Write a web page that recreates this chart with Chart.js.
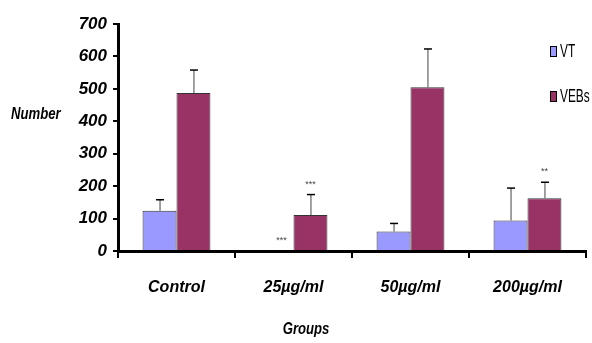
<!DOCTYPE html>
<html><head><meta charset="utf-8">
<script src="https://cdn.jsdelivr.net/npm/chart.js@4"></script>
<style>html,body{margin:0;padding:0;background:#fff}#wrap{width:592px;height:343px}</style>
</head><body><div id="wrap"><canvas id="c" width="592" height="343"></canvas></div>
<script>
const categories = ['Control', '25µg/ml', '50µg/ml', '200µg/ml'];
const vtValues = [124, 0, 60, 94];
const vtErrors = [34, 0, 25, 100];
const vebValues = [487, 111, 505, 163];
const vebErrors = [71, 63, 118, 49];
const vtSig = ['', '***', '', ''];
const vebSig = ['', '***', '', '**'];
const yTicks = [0, 100, 200, 300, 400, 500, 600, 700];
const seriesNames = ['VT', 'VEBs'];

const FONT = '"Liberation Sans", Arial, sans-serif';

function narrowText(ctx, text, x, y, sx) {
  ctx.save();
  ctx.translate(x, y);
  ctx.scale(sx, 1);
  ctx.fillText(text, 0, 0);
  ctx.restore();
}

const extras = {
  id: 'extras',
  afterDatasetsDraw(chart) {
    const ctx = chart.ctx;
    const ys = chart.scales.y;
    const errs = [vtErrors, vebErrors];
    const sigs = [vtSig, vebSig];
    const sigShift = [5, 0];
    chart.data.datasets.forEach((ds, di) => {
      const meta = chart.getDatasetMeta(di);
      meta.data.forEach((bar, i) => {
        const v = ds.data[i];
        const e = errs[di][i];
        const yTop = ys.getPixelForValue(v);
        let yMark = yTop;
        if (e > 0) {
          const yE = ys.getPixelForValue(v + e);
          ctx.save();
          ctx.strokeStyle = '#444';
          ctx.lineWidth = 1;
          ctx.beginPath();
          ctx.moveTo(bar.x + 0.5, yTop);
          ctx.lineTo(bar.x + 0.5, yE);
          ctx.stroke();
          ctx.strokeStyle = '#000';
          ctx.lineWidth = 1.5;
          ctx.beginPath();
          ctx.moveTo(bar.x - 3.5, yE);
          ctx.lineTo(bar.x + 4.5, yE);
          ctx.stroke();
          ctx.restore();
          yMark = yE;
        }
        const s = sigs[di][i];
        if (s) {
          ctx.save();
          ctx.fillStyle = '#444';
          ctx.font = '9px ' + FONT;
          ctx.textAlign = 'center';
          ctx.textBaseline = 'bottom';
          ctx.fillText(s, bar.x + sigShift[di], yMark - 6);
          ctx.restore();
        }
      });
    });
    // axis titles
    ctx.save();
    ctx.fillStyle = '#000';
    ctx.font = 'italic bold 16px ' + FONT;
    ctx.textAlign = 'left';
    ctx.textBaseline = 'middle';
    narrowText(ctx, 'Number', 11, 115, 0.82);
    ctx.textAlign = 'center';
    narrowText(ctx, 'Groups', 306, 330, 0.82);
    // legend
    const colors = ['#9999FF', '#993366'];
    const ly = [51, 96];
    ctx.font = '18px ' + FONT;
    seriesNames.forEach((n, k) => {
      ctx.fillStyle = colors[k];
      ctx.fillRect(550, ly[k] - 5, 7, 11);
      ctx.strokeStyle = '#000';
      ctx.lineWidth = 1;
      ctx.strokeRect(550.5, ly[k] - 4.5, 6, 10);
      ctx.fillStyle = '#000';
      ctx.textAlign = 'left';
      narrowText(ctx, n, 560, ly[k] + 1, 0.66);
    });
    ctx.restore();
  }
};

new Chart(document.getElementById('c'), {
  type: 'bar',
  data: {
    labels: categories,
    datasets: [
      { label: seriesNames[0], data: vtValues, backgroundColor: '#9999FF', borderColor: '#333', borderWidth: 1 },
      { label: seriesNames[1], data: vebValues, backgroundColor: '#993366', borderColor: '#333', borderWidth: 1 }
    ]
  },
  options: {
    responsive: false,
    animation: false,
    events: [],
    categoryPercentage: 0.58,
    barPercentage: 1,
    layout: { padding: { left: 0, right: 6, top: 24, bottom: 0 } },
    plugins: { legend: { display: false }, tooltip: { enabled: false }, title: { display: false } },
    scales: {
      y: {
        min: 0, max: 700,
        afterBuildTicks(s) { s.ticks = yTicks.map(v => ({ value: v })); },
        afterFit(s) { s.width = 118; },
        border: { display: true, color: '#000', width: 3 },
        grid: { drawOnChartArea: false, drawTicks: true, tickLength: 5, color: '#000', lineWidth: 2 },
        ticks: { color: '#000', padding: 6, font: { family: FONT, size: 17, weight: 'bold', style: 'italic' } }
      },
      x: {
        afterFit(s) { s.height = 92; },
        border: { display: true, color: '#000', width: 3 },
        grid: { drawOnChartArea: false, drawTicks: true, tickLength: 7, color: '#000', lineWidth: 2, offset: true },
        ticks: { color: '#000', padding: 20, font: { family: FONT, size: 16, weight: 'bold', style: 'italic' } }
      }
    }
  },
  plugins: [extras]
});
</script>
</body></html>
